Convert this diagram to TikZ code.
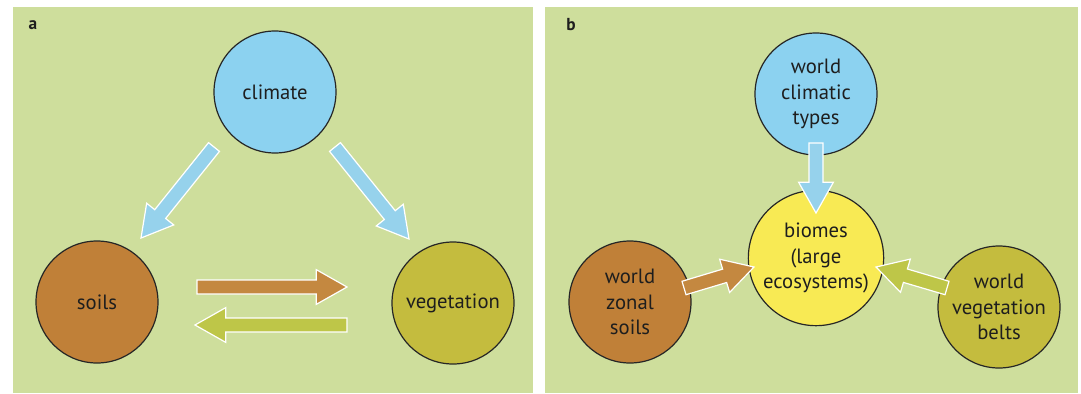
\documentclass[tikz,border=0pt]{standalone}
\usepackage{fontspec}
\setmainfont{PT Sans}
\usetikzlibrary{calc}
\definecolor{bg}{RGB}{206,222,156}
\definecolor{skyc}{RGB}{140,210,240}
\definecolor{skya}{RGB}{150,210,236}
\definecolor{soilc}{RGB}{192,128,56}
\definecolor{soila}{RGB}{196,136,64}
\definecolor{vegc}{RGB}{196,188,62}
\definecolor{vega}{RGB}{190,198,72}
\definecolor{biomec}{RGB}{248,234,84}
\definecolor{txt}{RGB}{30,30,30}
\newcommand\blockarrow[3]{%
  \coordinate (bh) at ($(#2)!23pt!(#1)$);
  \filldraw[fill=#3, draw=white, line width=0.9pt, line join=miter]
    ($(#1)!5.25pt!90:(#2)$) -- ($(bh)!5.25pt!-90:(#1)$) -- ($(bh)!13pt!-90:(#1)$)
    -- (#2) -- ($(bh)!13pt!90:(#1)$) -- ($(bh)!5.25pt!90:(#1)$)
    -- ($(#1)!5.25pt!-90:(#2)$) -- cycle;}
\tikzset{
  ball/.style={circle, draw=black!85, line width=0.9pt, minimum size=91.5pt, inner sep=0pt,
    align=center, text=txt, font=\fontsize{15.5}{19}\selectfont},
  panel/.style={fill=bg, draw=none},
  plabel/.style={font=\fontsize{13}{15}\selectfont\bfseries, text=txt}
}
\begin{document}
\begin{tikzpicture}[x=0.75pt, y=-0.75pt]
\useasboundingbox (0,0) rectangle (1081,393);
\fill[white] (0,0) rectangle (1081,393);
\fill[panel] (13,7) rectangle (533,393);
\fill[panel] (545,7) rectangle (1078,393);
\node[plabel] (la) at (33,25) {a};
\node[plabel] (lb) at (571,25) {b};
% panel a
\node[ball, fill=skyc] (climate) at (275,92) {climate};
\node[ball, fill=soilc] (soils) at (97,302) {soils};
\node[ball, fill=vegc] (veg) at (453,303) {vegetation};
\coordinate (a1s) at (214,147); \coordinate (a1e) at (141,238);
\coordinate (a2s) at (335,147); \coordinate (a2e) at (409,239);
\coordinate (a3s) at (197,287); \coordinate (a3e) at (347,287);
\coordinate (a4s) at (347,325); \coordinate (a4e) at (195,325);
\blockarrow{a1s}{a1e}{skya}
\blockarrow{a2s}{a2e}{skya}
\blockarrow{a3s}{a3e}{soila}
\blockarrow{a4s}{a4e}{vega}
% panel b
\node[ball, fill=skyc] (wct) at (816,94) {world\\climatic\\types};
\node[ball, fill=biomec, minimum size=101.5pt] (biomes) at (816,258) {biomes\\(large\\ecosystems)};
\node[ball, fill=soilc] (wzs) at (630,302) {world\\zonal\\soils};
\node[ball, fill=vegc] (wvb) at (999,307) {world\\vegetation\\belts};
\coordinate (b1s) at (816,143); \coordinate (b1e) at (816,213);
\coordinate (b2s) at (684,288); \coordinate (b2e) at (754,267);
\coordinate (b3s) at (947,288); \coordinate (b3e) at (876,267);
\blockarrow{b1s}{b1e}{skya}
\blockarrow{b2s}{b2e}{soila}
\blockarrow{b3s}{b3e}{vega}
\end{tikzpicture}
\end{document}
